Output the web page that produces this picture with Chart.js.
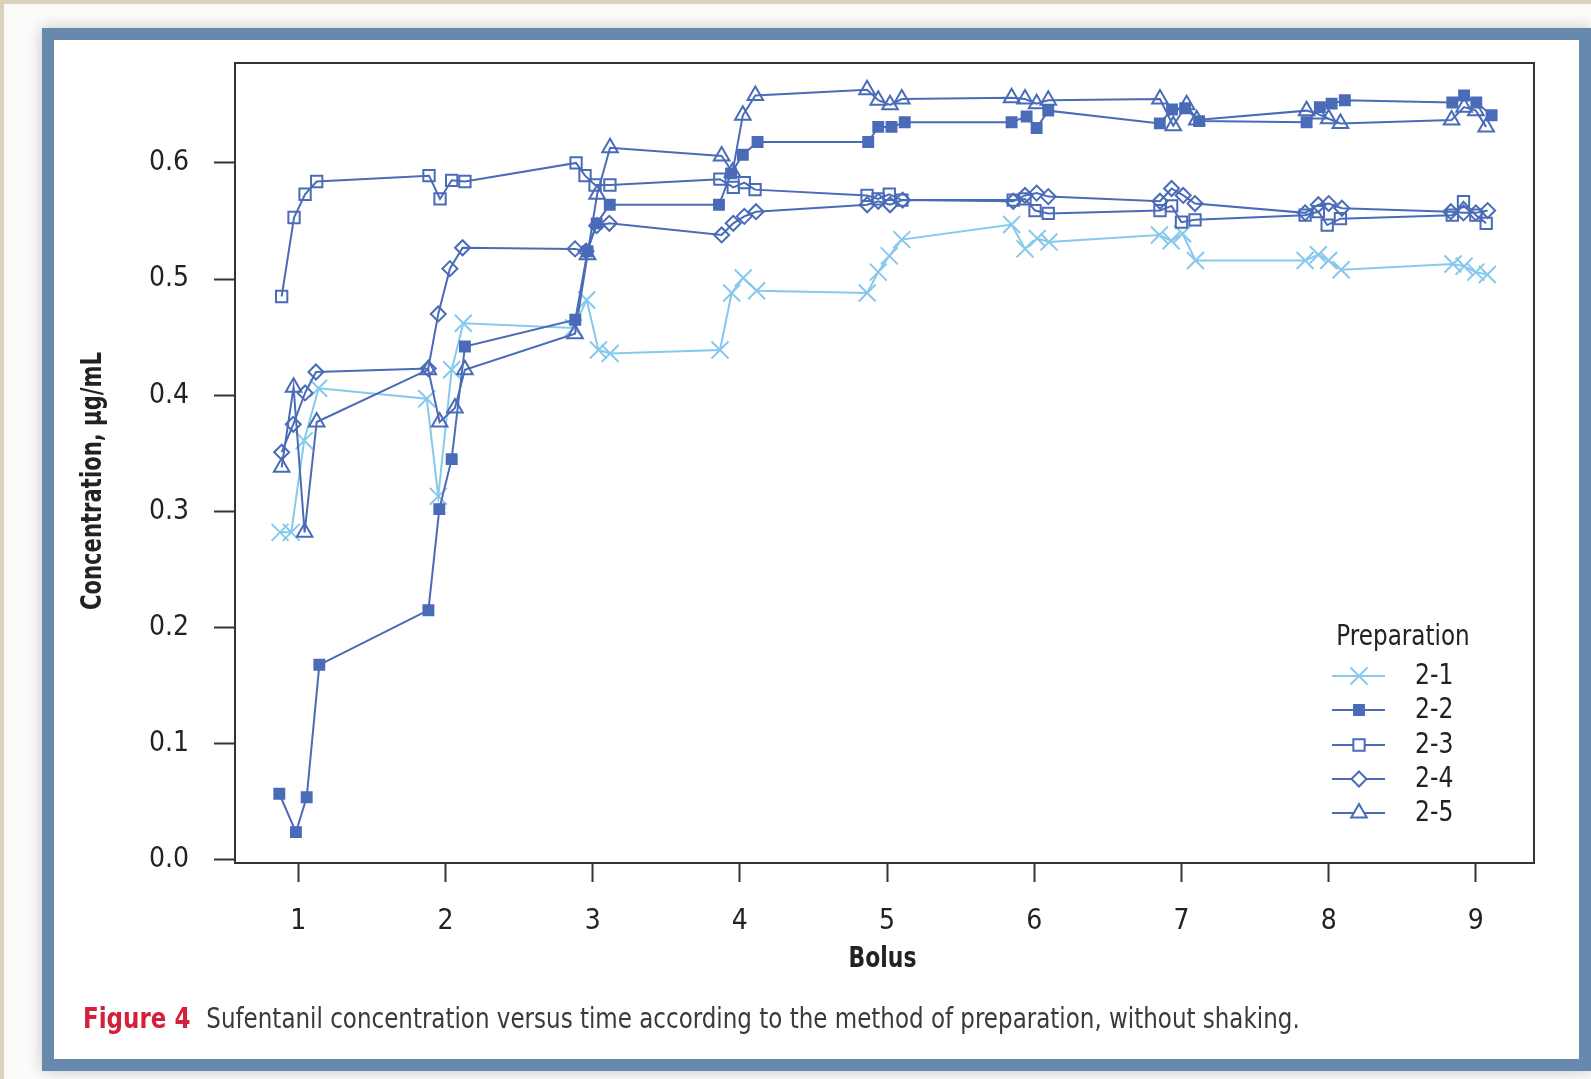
<!DOCTYPE html>
<html>
<head>
<meta charset="utf-8">
<script src="https://cdn.jsdelivr.net/npm/chart.js@4.4.1/dist/chart.umd.min.js"></script>
<style>
  html, body { margin:0; padding:0; }
  body { width:1591px; height:1079px; background:#d9d3be; position:relative; overflow:hidden; }
  #paper { position:absolute; left:4px; top:4px; right:0; bottom:0; background:#fbfbfa; }
  #frame { position:absolute; left:42px; top:28px; width:1525px; height:1019px; border:12px solid #6689ad; background:#fff;
           box-shadow: 0 0 14px rgba(0,0,0,0.22); }
  #c { position:absolute; left:0; top:0; }
  #caption { position:absolute; left:83px; top:1001px; font-family:'DejaVu Sans Condensed','Liberation Sans Narrow',sans-serif;
             font-size:29px; color:#3a3a3a; white-space:nowrap; transform:scaleX(0.882); transform-origin:0 50%; }
  #caption b { color:#d2213a; margin-right:18px; }
</style>
</head>
<body>
<div id="paper"></div>
<div id="frame"></div>
<canvas id="c" width="1591" height="1079"></canvas>
<div id="caption"><b>Figure 4</b>Sufentanil concentration versus time according to the method of preparation, without shaking.</div>
<script>
// ---- data ----
const seriesNames = ['2-1', '2-2', '2-3', '2-4', '2-5'];
const legendTitle = 'Preparation';
const xTitle = 'Bolus';
const yTitle = 'Concentration, µg/mL';
const xTicks = [1, 2, 3, 4, 5, 6, 7, 8, 9];
const yTicks = [0.0, 0.1, 0.2, 0.3, 0.4, 0.5, 0.6];

const x21 = [0.876, 0.952, 1.04, 1.138, 1.873, 1.951, 2.042, 2.121, 2.87, 2.959, 3.039, 3.118, 3.865, 3.944, 4.023, 4.114, 4.865, 4.94, 5.015, 5.1, 5.846, 5.937, 6.02, 6.1, 6.85, 6.93, 7.008, 7.095, 7.84, 7.93, 8.0, 8.085, 8.845, 8.92, 9.0, 9.078];
const y21 = [0.282, 0.282, 0.361, 0.406, 0.397, 0.313, 0.422, 0.462, 0.458, 0.482, 0.439, 0.436, 0.439, 0.488, 0.501, 0.490, 0.488, 0.506, 0.520, 0.534, 0.547, 0.526, 0.535, 0.532, 0.538, 0.533, 0.539, 0.516, 0.516, 0.521, 0.516, 0.508, 0.513, 0.511, 0.506, 0.504];

const x22 = [0.871, 0.984, 1.057, 1.143, 1.884, 1.958, 2.042, 2.132, 2.882, 2.965, 3.027, 3.116, 3.858, 3.94, 4.02, 4.12, 4.872, 4.94, 5.03, 5.12, 5.846, 5.948, 6.016, 6.095, 6.853, 6.936, 7.025, 7.12, 7.85, 7.94, 8.02, 8.11, 8.84, 8.92, 9.003, 9.107];
const y22 = [0.057, 0.024, 0.054, 0.168, 0.215, 0.302, 0.345, 0.442, 0.465, 0.524, 0.548, 0.564, 0.564, 0.591, 0.607, 0.618, 0.618, 0.631, 0.631, 0.635, 0.635, 0.640, 0.630, 0.645, 0.634, 0.646, 0.647, 0.636, 0.635, 0.648, 0.651, 0.654, 0.652, 0.658, 0.652, 0.641];

const x23 = [0.887, 0.971, 1.046, 1.125, 1.888, 1.963, 2.042, 2.132, 2.887, 2.948, 3.016, 3.117, 3.864, 3.955, 4.03, 4.103, 4.864, 4.939, 5.015, 5.101, 5.857, 5.937, 6.005, 6.095, 6.854, 6.933, 7.0, 7.092, 7.84, 7.93, 7.99, 8.08, 8.84, 8.916, 9.0, 9.07];
const y23 = [0.485, 0.553, 0.573, 0.584, 0.589, 0.569, 0.585, 0.584, 0.600, 0.589, 0.581, 0.581, 0.586, 0.579, 0.583, 0.577, 0.572, 0.569, 0.573, 0.568, 0.568, 0.569, 0.559, 0.5565, 0.559, 0.563, 0.549, 0.551, 0.555, 0.558, 0.5465, 0.552, 0.555, 0.5666, 0.555, 0.548];

const x24 = [0.887, 0.966, 1.046, 1.12, 1.883, 1.951, 2.03, 2.116, 2.88, 2.955, 3.027, 3.113, 3.876, 3.955, 4.03, 4.11, 4.865, 4.94, 5.02, 5.105, 5.857, 5.937, 6.016, 6.095, 6.854, 6.933, 7.012, 7.092, 7.84, 7.93, 8.0, 8.09, 8.83, 8.916, 9.0, 9.08];
const y24 = [0.351, 0.375, 0.402, 0.420, 0.423, 0.470, 0.509, 0.527, 0.526, 0.524, 0.546, 0.548, 0.538, 0.548, 0.554, 0.558, 0.564, 0.567, 0.564, 0.568, 0.567, 0.572, 0.574, 0.571, 0.567, 0.578, 0.572, 0.565, 0.557, 0.564, 0.565, 0.561, 0.558, 0.557, 0.557, 0.559];

const x25 = [0.887, 0.968, 1.043, 1.125, 1.883, 1.96, 2.064, 2.132, 2.88, 2.965, 3.03, 3.118, 3.876, 3.95, 4.02, 4.105, 4.864, 4.94, 5.02, 5.1, 5.846, 5.937, 6.016, 6.095, 6.854, 6.944, 7.035, 7.104, 7.85, 7.93, 8.0, 8.08, 8.835, 8.92, 9.0, 9.07];
const y25 = [0.338, 0.407, 0.282, 0.377, 0.422, 0.377, 0.389, 0.422, 0.453, 0.521, 0.573, 0.613, 0.606, 0.592, 0.641, 0.658, 0.663, 0.654, 0.650, 0.655, 0.656, 0.655, 0.651, 0.654, 0.655, 0.632, 0.650, 0.637, 0.645, 0.642, 0.638, 0.634, 0.637, 0.648, 0.645, 0.631];

// ---- styling ----
const FONT = "'DejaVu Sans Condensed','Liberation Sans Narrow',sans-serif";
const DARK = '#4a6bb7';
const LIGHT = '#86c9ec';
const TEXT = '#222';
const styles = [
  { color: LIGHT, point: 'crossRot', radius: 12, fill: 'rgba(0,0,0,0)' },
  { color: DARK,  point: 'rect',     radius: 7,  fill: DARK },
  { color: DARK,  point: 'rect',     radius: 8,  fill: 'rgba(0,0,0,0)' },
  { color: DARK,  point: 'rectRot',  radius: 7.5,fill: 'rgba(0,0,0,0)' },
  { color: DARK,  point: 'triangle', radius: 9,  fill: 'rgba(0,0,0,0)' }
];
const xs = [x21, x22, x23, x24, x25];
const ys = [y21, y22, y23, y24, y25];

const datasets = seriesNames.map((name, i) => ({
  label: name,
  data: xs[i].map((x, j) => ({ x: x, y: ys[i][j] })),
  showLine: true,
  borderColor: styles[i].color,
  borderWidth: 2,
  pointStyle: styles[i].point,
  pointRadius: styles[i].radius,
  pointBorderWidth: 2,
  pointBorderColor: styles[i].color,
  pointBackgroundColor: styles[i].fill,
  order: 5 - i
}));

function drawMarker(ctx, style, x, y, r) {
  ctx.beginPath();
  if (style === 'rect') {
    const s = Math.SQRT1_2 * r;
    ctx.rect(x - s, y - s, 2 * s, 2 * s);
  } else if (style === 'rectRot') {
    ctx.moveTo(x, y - r); ctx.lineTo(x + r, y); ctx.lineTo(x, y + r); ctx.lineTo(x - r, y); ctx.closePath();
  } else if (style === 'triangle') {
    const a = -Math.PI / 2;
    for (let k = 0; k < 3; k++) {
      const ang = a + k * 2 * Math.PI / 3;
      const px = x + Math.cos(ang) * r, py = y + Math.sin(ang) * r;
      if (k === 0) ctx.moveTo(px, py); else ctx.lineTo(px, py);
    }
    ctx.closePath();
  } else if (style === 'crossRot') {
    const d = Math.SQRT1_2 * r;
    ctx.moveTo(x - d, y - d); ctx.lineTo(x + d, y + d);
    ctx.moveTo(x + d, y - d); ctx.lineTo(x - d, y + d);
  }
}

function squeezedText(ctx, text, x, y, sx, rot, align) {
  ctx.save();
  ctx.translate(x, y);
  if (rot) ctx.rotate(rot);
  ctx.scale(sx, 1);
  ctx.textAlign = align || 'center';
  ctx.textBaseline = 'middle';
  ctx.fillText(text, 0, 0);
  ctx.restore();
}

const boxPlugin = {
  id: 'box',
  afterDraw(chart) {
    const { ctx, chartArea: a } = chart;
    ctx.save();
    ctx.strokeStyle = '#333';
    ctx.lineWidth = 2;
    ctx.strokeRect(a.left, a.top, a.right - a.left, a.bottom - a.top);
    // axis titles (narrow, as in the reference)
    ctx.fillStyle = TEXT;
    ctx.font = 'bold 29px ' + FONT;
    squeezedText(ctx, xTitle, (a.left + a.right) / 2 - 2, 959, 0.84, 0);
    squeezedText(ctx, yTitle, 93, 481, 0.81, -Math.PI / 2);
    ctx.restore();
  }
};

const legendPlugin = {
  id: 'customLegend',
  afterDraw(chart) {
    const ctx = chart.ctx;
    ctx.save();
    ctx.fillStyle = TEXT;
    ctx.font = '29px ' + FONT;
    squeezedText(ctx, legendTitle, 1403, 637, 0.885, 0);
    const rowY = [676, 710, 745, 779, 813];
    seriesNames.forEach((name, i) => {
      const y = rowY[i];
      const st = styles[i];
      ctx.strokeStyle = st.color;
      ctx.lineWidth = 2;
      ctx.beginPath(); ctx.moveTo(1332, y); ctx.lineTo(1385, y); ctx.stroke();
      drawMarker(ctx, st.point, 1359, y, st.radius);
      if (st.fill !== 'rgba(0,0,0,0)') { ctx.fillStyle = st.fill; ctx.fill(); }
      else if (st.point !== 'crossRot') { ctx.fillStyle = '#fff'; ctx.fill(); }
      ctx.stroke();
      ctx.fillStyle = TEXT;
      squeezedText(ctx, name, 1415, y, 0.9, 0, 'left');
    });
    ctx.restore();
  }
};

new Chart(document.getElementById('c'), {
  type: 'scatter',
  data: { datasets },
  plugins: [boxPlugin, legendPlugin],
  options: {
    responsive: false,
    animation: false,
    devicePixelRatio: 1,
    layout: { padding: { left: 0, top: 63, right: 57, bottom: 0 } },
    plugins: { legend: { display: false }, tooltip: { enabled: false } },
    scales: {
      x: {
        type: 'linear', min: 0.57, max: 9.395,
        afterBuildTicks: (a) => { a.ticks = xTicks.map(v => ({ value: v })); },
        afterFit: (s) => { s.height = 216; },
        grid: { drawOnChartArea: false, drawTicks: true, tickLength: 19, tickWidth: 2, tickColor: '#333' },
        border: { display: false },
        ticks: { padding: 23, color: TEXT, font: { family: FONT, size: 28 }, maxRotation: 0, autoSkip: false,
                 callback: (v) => String(v) },
        title: { display: false }
      },
      y: {
        type: 'linear', min: -0.0026, max: 0.686,
        afterBuildTicks: (a) => { a.ticks = yTicks.map(v => ({ value: v })); },
        afterFit: (s) => { s.width = 235; },
        grid: { drawOnChartArea: false, drawTicks: true, tickLength: 21, tickWidth: 2, tickColor: '#333' },
        border: { display: false },
        ticks: { padding: 25, color: TEXT, font: { family: FONT, size: 28 }, autoSkip: false,
                 callback: (v) => Number(v).toFixed(1) },
        title: { display: false }
      }
    }
  }
});
</script>
</body>
</html>
